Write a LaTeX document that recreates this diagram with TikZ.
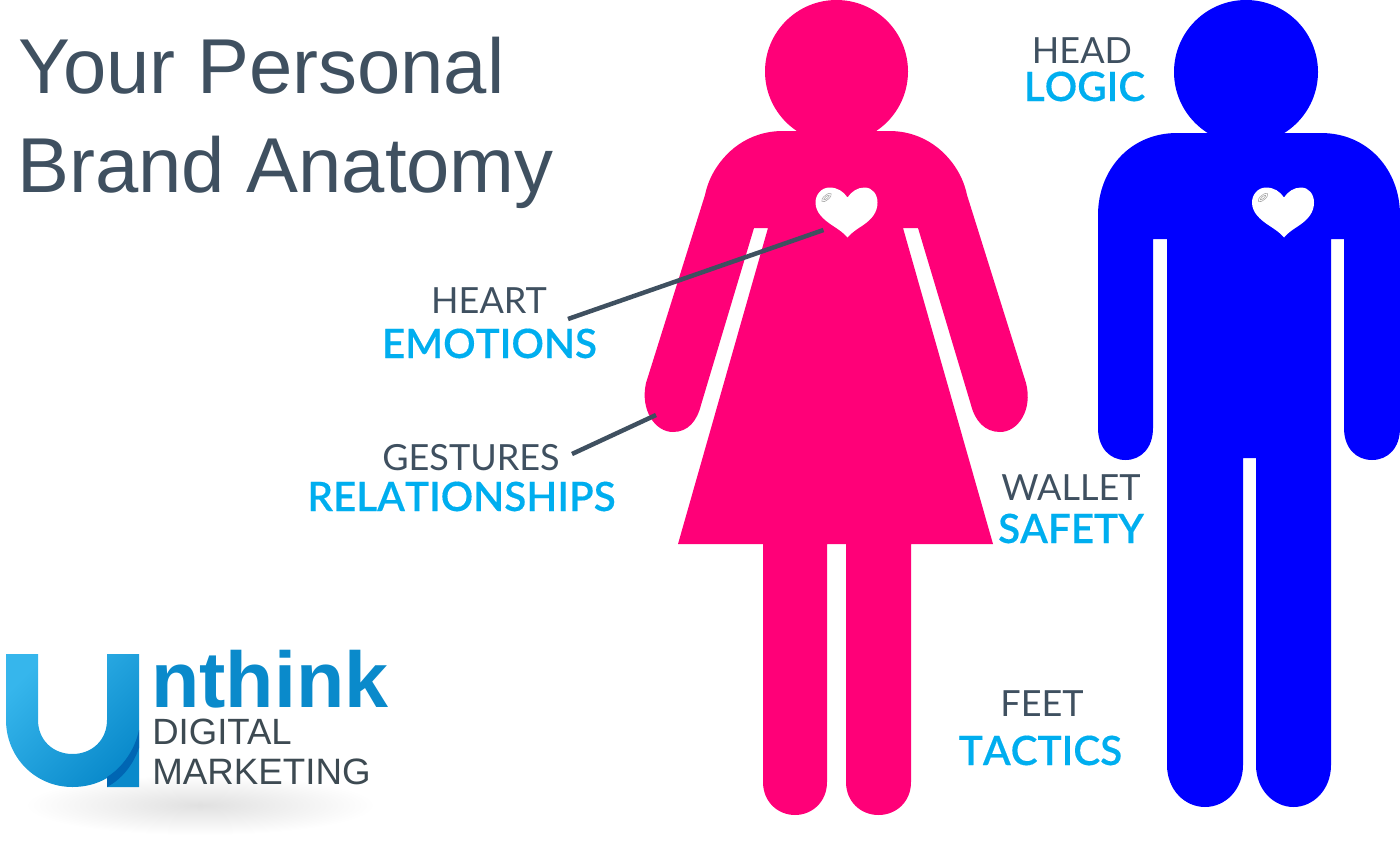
\documentclass[tikz,border=0pt]{standalone}
\usepackage{fontspec}
\setmainfont{Liberation Sans}
\newfontfamily\partfont{Lato}
\newfontfamily\meaningfont{Lato Semibold}[Kerning=Off,FakeBold=0.3]
\usetikzlibrary{shadings}
\definecolor{slategrey}{HTML}{3F5060}
\definecolor{skyblue}{HTML}{00AEEF}
\definecolor{logoblue}{HTML}{0A8ACB}
\definecolor{logolight}{HTML}{36B6EC}
\definecolor{logodark}{HTML}{0066B3}
\definecolor{logogrey}{HTML}{3D4A52}
\definecolor{womanpink}{HTML}{FF0078}
\definecolor{manblue}{HTML}{0000FF}
\tikzset{
  titletext/.style={text=slategrey,inner sep=0pt,anchor=base west,font=\fontsize{44.3}{50}\selectfont},
  parttext/.style={text=slategrey,inner sep=0pt,anchor=base,font=\partfont\fontsize{20.5}{24}\selectfont},
  meaningtext/.style={text=skyblue,inner sep=0pt,anchor=base,font=\meaningfont\fontsize{23}{26}\selectfont},
  logotext/.style={text=logogrey,inner sep=0pt,anchor=base west},
  pointer/.style={draw=slategrey,line width=0.09cm},
  pics/heartmark/.style={code={
    \fill[white] (32,10) .. controls (36,4) and (42,0) .. (49,0) .. controls (57,0) and (62,7) .. (62,15) .. controls (62,25) and (56,32) .. (47,38) .. controls (41,42) and (36,45) .. (32,50) .. controls (28,45) and (23,42) .. (17,38) .. controls (8,32) and (0,25) .. (0,15) .. controls (0,7) and (6,0) .. (14,0) .. controls (22,0) and (28,4) .. (32,10) -- cycle;
    \draw[gray!70,line width=0.3pt,rotate around={40:(11,10)}] (11,10) ellipse (6 and 2.4) (11,10) ellipse (3.5 and 1);
  }}
}

\begin{document}
\begin{tikzpicture}[x=0.02cm,y=-0.02cm]
\useasboundingbox (0,0) rectangle (1400,842);
\fill[womanpink] (836.5,71.5) circle (71.5);
\fill[womanpink] (800,131) -- (783,131) .. controls (748,131) and (724,152) .. (712,175) .. controls (708,183) and (706,190) .. (705,195) -- (646,383) .. controls (640,410) and (655,432) .. (673,432) .. controls (688,432) and (697,421) .. (701,405) -- (754,228) -- (768,228) -- (678,544) -- (763,544) -- (763,782) .. controls (763,802) and (778,815) .. (795,815) .. controls (812,815) and (827,802) .. (827,782) -- (827,544) -- (846,544) -- (846,782) .. controls (846,802) and (861,815) .. (878.5,815) .. controls (896,815) and (911,802) .. (911,782) -- (911,544) -- (993,544) -- (903,228) -- (918,228) -- (971,405) .. controls (975,421) and (985,432) .. (1000,432) .. controls (1018,432) and (1033,410) .. (1026,383) -- (967,195) .. controls (966,190) and (964,183) .. (960,175) .. controls (948,152) and (924,131) .. (889,131) -- (872,131) -- cycle;
\pic at (815.5,187.5) {heartmark};
\fill[manblue] (1246,72) circle (72);
\fill[manblue] (1207,133) -- (1177,133) .. controls (1130,133) and (1098,170) .. (1098,215) -- (1098,428) .. controls (1098,448) and (1110,460) .. (1125.5,460) .. controls (1141,460) and (1153,448) .. (1153,428) -- (1153,239) -- (1167,239) -- (1167,765) .. controls (1167,790) and (1185,807) .. (1205,807) .. controls (1225,807) and (1243,790) .. (1243,765) -- (1243,458) -- (1256,458) -- (1256,765) .. controls (1256,790) and (1274,807) .. (1293.5,807) .. controls (1313,807) and (1331,790) .. (1331,765) -- (1331,239) -- (1344,239) -- (1344,428) .. controls (1344,448) and (1356,460) .. (1372,460) .. controls (1388,460) and (1400,448) .. (1400,428) -- (1400,215) .. controls (1400,170) and (1368,133) .. (1321,133) -- (1283,133) -- cycle;
\pic at (1252,187.5) {heartmark};
\node[titletext] (title1) at (18,93) {Your Personal};
\node[titletext] (title2) at (17,192) {Brand Anatomy};
\node[parttext] (head) at (1082,63) {HEAD};
\node[meaningtext] (logic) at (1084.5,101) {LOGIC};
\node[parttext] (heart) at (489,313) {HEART};
\node[meaningtext] (emotions) at (489.5,358) {EMOTIONS};
\node[parttext] (gestures) at (471,470) {GESTURES};
\node[meaningtext] (relationships) at (461.5,511) {RELATIONSHIPS};
\node[parttext] (wallet) at (1071,500) {WALLET};
\node[meaningtext] (safety) at (1071,543) {SAFETY};
\node[parttext] (feet) at (1042,716) {FEET};
\node[meaningtext] (tactics) at (1040.5,765) {TACTICS};
\coordinate (heartstart) at (568,319);
\coordinate (heartend) at (823.5,230);
\coordinate (handstart) at (572,454);
\coordinate (handend) at (656,415);
\draw[pointer] (heartstart) -- (heartend);
\draw[pointer] (handstart) -- (handend);
\shade[inner color=black!12,outer color=white] (200,805) ellipse (175 and 30);
\shade[shading=axis,left color=logolight,right color=logoblue,shading angle=45] (6,654) -- (38,654) -- (38,720) .. controls (38,740) and (53,754) .. (72.5,754) .. controls (92,754) and (107,740) .. (107,720) -- (107,654) -- (139,654) -- (139,787) -- (107,787) -- (107,778) .. controls (97,784) and (85,787) .. (72.5,787) .. controls (35,787) and (6,757) .. (6,720) -- cycle;
\fill[logodark] (139,730) .. controls (135,750) and (122,768) .. (107,777) -- (107,787) .. controls (122,779) and (133,765) .. (139,748) -- cycle;
\node[logotext,text=logoblue,font=\bfseries\fontsize{45}{50}\selectfont] (nthink) at (151,707) {nthink};
\node[logotext,font=\fontsize{20.8}{24}\selectfont] (digital) at (152,744) {DIGITAL};
\node[logotext,font=\fontsize{20.9}{24}\selectfont] (marketing) at (152,784) {MARKETING};
\end{tikzpicture}
\end{document}
